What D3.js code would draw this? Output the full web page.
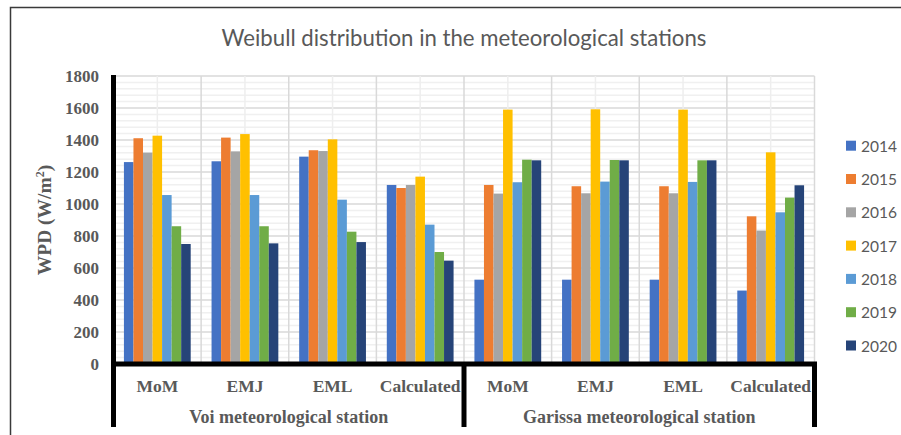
<!DOCTYPE html>
<html>
<head>
<meta charset="utf-8">
<script src="https://cdn.jsdelivr.net/npm/d3@7"></script>
<style>
  html, body { margin: 0; padding: 0; background: #fff; }
  svg { display: block; }
</style>
</head>
<body>
<svg id="chart" width="901" height="435"></svg>
<script>
// Wind power density (W/m²) by estimation method, station and year
const years = ["2014", "2015", "2016", "2017", "2018", "2019", "2020"];
const stations = ["Voi meteorological station", "Garissa meteorological station"];
const methods = ["MoM", "EMJ", "EML", "Calculated"];
const yTicks = [0, 200, 400, 600, 800, 1000, 1200, 1400, 1600, 1800];

// One value per category: Voi MoM, EMJ, EML, Calculated, then Garissa MoM, EMJ, EML, Calculated
const wpd2014 = [1262, 1267, 1296, 1119, 527, 527, 527, 459];
const wpd2015 = [1411, 1415, 1336, 1100, 1119, 1111, 1111, 923];
const wpd2016 = [1321, 1329, 1331, 1119, 1065, 1067, 1067, 834];
const wpd2017 = [1427, 1437, 1404, 1171, 1590, 1592, 1590, 1323];
const wpd2018 = [1056, 1056, 1027, 871, 1136, 1140, 1138, 948];
const wpd2019 = [861, 861, 827, 700, 1277, 1275, 1273, 1040];
const wpd2020 = [750, 754, 762, 646, 1273, 1273, 1273, 1117];

const seriesValues = [wpd2014, wpd2015, wpd2016, wpd2017, wpd2018, wpd2019, wpd2020];
const colors = ["#4472C4", "#ED7D31", "#A5A5A5", "#FFC000", "#5B9BD5", "#70AD47", "#264478"];

(function draw() {
  // Category keys (station index + method)
  const categories = [];
  stations.forEach((s, si) => methods.forEach(m => categories.push({ key: si + "|" + m, station: si, method: m })));

  const svg = d3.select("#chart");
  const plotLeft = 113.5, plotRight = 814.5, plotTop = 76, zeroY = 364, tableBottom = 427;

  const x = d3.scaleBand().domain(categories.map(c => c.key)).range([plotLeft, plotRight]).paddingInner(0).paddingOuter(0);
  const catW = x.bandwidth();
  const gap = catW * 0.238;
  const xs = d3.scaleBand().domain(years).range([gap / 2, catW - gap / 2]).padding(0);
  const y = d3.scaleLinear().domain([0, 1800]).range([zeroY, plotTop]);

  // Outer frame
  svg.append("rect")
    .attr("x", 10.5).attr("y", 7.5).attr("width", 900).attr("height", 440)
    .attr("fill", "#fff").attr("stroke", "#3a3a3a").attr("stroke-width", 1.5);

  // Title
  svg.append("text")
    .attr("x", 464).attr("y", 46)
    .attr("text-anchor", "middle")
    .attr("font-family", "Lato, 'Open Sans', sans-serif")
    .attr("font-size", 22.2)
    .attr("fill", "#595959")
    .text("Weibull distribution in the meteorological stations");

  // Horizontal gridlines: minor every 40, major every 200
  const grid = svg.append("g");
  d3.range(40, 1801, 40).filter(v => v % 200 !== 0).forEach(v => {
    grid.append("line").attr("x1", plotLeft).attr("x2", plotRight).attr("y1", y(v)).attr("y2", y(v))
      .attr("stroke", "#f0f0f0").attr("stroke-width", 1.5);
  });
  yTicks.filter(v => v > 0).forEach(v => {
    grid.append("line").attr("x1", plotLeft).attr("x2", plotRight).attr("y1", y(v)).attr("y2", y(v))
      .attr("stroke", "#d9d9d9").attr("stroke-width", 1.5);
  });
  // Vertical gridlines: category centres (light) and boundaries (darker)
  categories.forEach(c => {
    const cx = x(c.key) + catW / 2;
    grid.append("line").attr("x1", cx).attr("x2", cx).attr("y1", plotTop).attr("y2", zeroY)
      .attr("stroke", "#eeeeee").attr("stroke-width", 1.5);
    const bx = x(c.key) + catW;
    grid.append("line").attr("x1", bx).attr("x2", bx).attr("y1", plotTop).attr("y2", zeroY)
      .attr("stroke", "#d9d9d9").attr("stroke-width", 1.5);
  });

  // Bars
  const barG = svg.append("g");
  categories.forEach((c, ci) => {
    years.forEach((yr, si) => {
      const v = seriesValues[si][ci];
      barG.append("rect")
        .attr("x", x(c.key) + xs(yr))
        .attr("width", xs.bandwidth())
        .attr("y", y(v))
        .attr("height", y(0) - y(v))
        .attr("fill", colors[si]);
    });
  });

  // Y axis labels
  const yAxis = d3.axisLeft(y).tickValues(yTicks).tickSize(0).tickPadding(14.5).tickFormat(d3.format("d"));
  const yG = svg.append("g").attr("transform", `translate(${plotLeft},0)`).call(yAxis);
  yG.select(".domain").remove();
  yG.selectAll("text")
    .attr("font-family", "'Liberation Serif', 'Times New Roman', serif")
    .attr("font-weight", "bold")
    .attr("font-size", 17)
    .attr("fill", "#595959");

  // Y axis title
  const yt = svg.append("text")
    .attr("transform", "translate(51,220) rotate(-90)")
    .attr("text-anchor", "middle")
    .attr("font-family", "'Liberation Serif', 'Times New Roman', serif")
    .attr("font-weight", "bold")
    .attr("font-size", 19.5)
    .attr("fill", "#595959");
  yt.append("tspan").text("WPD (W/m");
  yt.append("tspan").attr("font-size", 12).attr("dy", -7).text("2");
  yt.append("tspan").attr("dy", 7).text(")");

  // Category labels
  svg.append("g").selectAll("text").data(categories).join("text")
    .attr("x", d => x(d.key) + catW / 2)
    .attr("y", 386)
    .attr("dominant-baseline", "central")
    .attr("text-anchor", "middle")
    .attr("font-family", "'Liberation Serif', 'Times New Roman', serif")
    .attr("font-weight", "bold")
    .attr("font-size", 17.5)
    .attr("fill", "#595959")
    .text(d => d.method);

  // Station labels
  stations.forEach((s, si) => {
    const keys = categories.filter(c => c.station === si).map(c => c.key);
    const x0 = x(keys[0]), x1 = x(keys[keys.length - 1]) + catW;
    svg.append("text")
      .attr("x", (x0 + x1) / 2)
      .attr("y", 417)
      .attr("dominant-baseline", "central")
      .attr("text-anchor", "middle")
      .attr("font-family", "'Liberation Serif', 'Times New Roman', serif")
      .attr("font-weight", "bold")
      .attr("font-size", 18)
      .attr("fill", "#595959")
      .text(s);
  });

  // Heavy axis lines and station dividers
  const heavy = svg.append("g").attr("stroke", "#000").attr("stroke-width", 5);
  heavy.append("line").attr("x1", plotLeft).attr("x2", plotLeft).attr("y1", 75).attr("y2", tableBottom);
  heavy.append("line").attr("x1", plotLeft - 2.5).attr("x2", plotRight + 2.5).attr("y1", zeroY).attr("y2", zeroY);
  const divX = x(categories[4].key);
  heavy.append("line").attr("x1", divX).attr("x2", divX).attr("y1", zeroY).attr("y2", tableBottom);
  heavy.append("line").attr("x1", plotRight).attr("x2", plotRight).attr("y1", zeroY).attr("y2", tableBottom);

  // Legend
  const legend = svg.append("g");
  years.forEach((yr, i) => {
    const cy = 145.7 + i * 33.3;
    legend.append("rect").attr("x", 846).attr("y", cy - 5).attr("width", 10).attr("height", 10).attr("fill", colors[i]);
    legend.append("text")
      .attr("x", 861).attr("y", cy)
      .attr("dominant-baseline", "central")
      .attr("font-family", "Lato, 'Open Sans', sans-serif")
      .attr("font-size", 15.5)
      .attr("fill", "#595959")
      .text(yr);
  });
})();
</script>
</body>
</html>
